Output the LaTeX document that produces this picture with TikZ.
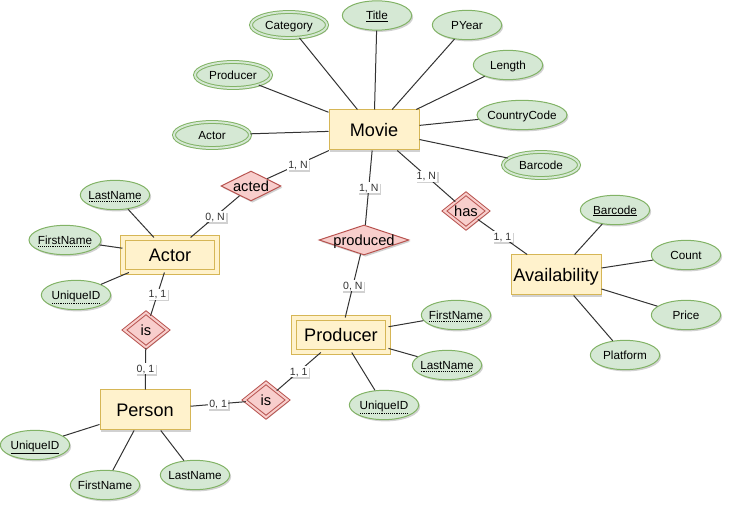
\documentclass[tikz,border=0pt]{standalone}
\usepackage{fontspec}
\setmainfont{Liberation Sans}
\usetikzlibrary{shapes.geometric,shadows}
\definecolor{entfill}{HTML}{FFF2CC}
\definecolor{entdraw}{HTML}{D6B656}
\definecolor{attfill}{HTML}{D5E8D4}
\definecolor{attdraw}{HTML}{82B366}
\definecolor{relfill}{HTML}{F8CECC}
\definecolor{reldraw}{HTML}{B85450}
\definecolor{edgecol}{HTML}{333333}
\newcommand\dotul[1]{\leavevmode\setbox0=\hbox{#1}\vtop{\offinterlineskip\copy0\kern1pt\hbox to\wd0{\leaders\hbox to 1.4pt{\hss\vrule width 0.65pt height 0.65pt\hss}\hfill}}}
\newcommand\keyul[1]{\leavevmode\setbox0=\hbox{#1}\vtop{\offinterlineskip\copy0\kern0.9pt\hrule height 0.7pt width\wd0}}
\tikzset{
  shad/.style={drop shadow={shadow xshift=1.1pt,shadow yshift=-1.3pt,opacity=0.18,fill=black}},
  entity/.style={rectangle, draw=entdraw, fill=entfill, line width=0.75pt, minimum width=67.5pt, minimum height=30pt, inner sep=0pt, font=\fontsize{13.6}{15}\selectfont, text height=9.8pt, text depth=0.2pt, shad},
  weakentity/.style={entity, double=entfill, double distance=3pt, minimum width=70.5pt, minimum height=25.5pt},
  attr/.style={ellipse, draw=attdraw, fill=attfill, line width=0.75pt, minimum width=52pt, minimum height=22pt, inner xsep=-3pt, inner ysep=0pt, font=\fontsize{8.8}{10}\selectfont, text height=6.4pt, text depth=0.2pt, shad},
  multiattr/.style={attr, double=attfill, double distance=1.4pt, minimum width=57pt, minimum height=19.5pt},
  rel/.style={diamond, draw=reldraw, fill=relfill, line width=0.75pt, inner sep=0pt, shad},
  weakrel/.style={rel, double=relfill, double distance=1.5pt, minimum width=32.7pt, minimum height=26.2pt},
  reltext/.style={font=\fontsize{11}{13}\selectfont, inner sep=0pt, text height=8pt, text depth=0.2pt},
  conn/.style={draw=edgecol, line width=0.75pt},
  elabel/.style={fill=white, inner sep=1pt, font=\fontsize{7.9}{9}\selectfont, text=edgecol, text height=5.8pt, text depth=0.4pt, shad}
}
\begin{document}
\begin{tikzpicture}[x=0.75pt,y=-0.75pt]
\useasboundingbox (0,0) rectangle (733,513);
% entities
\node[entity] (movie) at (374,130) {Movie};
\node[weakentity] (actor) at (170,255) {Actor};
\node[entity] (person) at (145,410) {Person};
\node[weakentity] (producer) at (341,335) {Producer};
\node[entity] (avail) at (556,275) {Availability};
% movie attributes
\node[attr] (title) at (377,15.5) {\keyul{Title}};
\node[multiattr] (category) at (289,25) {Category};
\node[attr] (pyear) at (467,25) {PYear};
\node[attr] (length) at (508,65) {Length};
\node[multiattr] (mproducer) at (233,75) {Producer};
\node[attr, minimum width=67.5pt] (ccode) at (522,115) {CountryCode};
\node[multiattr] (mactor) at (212,135) {Actor};
\node[multiattr] (mbarcode) at (541,165) {Barcode};
% actor attributes
\node[attr] (alast) at (115,195) {\dotul{LastName}};
\node[attr, minimum width=54pt] (afirst) at (65,240) {\dotul{FirstName}};
\node[attr] (auid) at (76,295) {\dotul{UniqueID}};
% person attributes
\node[attr] (puid) at (35,445) {\keyul{UniqueID}};
\node[attr] (pfirst) at (105,485) {FirstName};
\node[attr] (plast) at (195,475) {LastName};
% producer attributes
\node[attr] (prfirst) at (456,315) {\dotul{FirstName}};
\node[attr] (prlast) at (447,365) {\dotul{LastName}};
\node[attr] (pruid) at (384,405) {\dotul{UniqueID}};
% availability attributes
\node[attr] (abarcode) at (615,210) {\keyul{Barcode}};
\node[attr] (count) at (686,255) {Count};
\node[attr] (price) at (686,315) {Price};
\node[attr] (platform) at (625,355) {Platform};
% relationships
\node[rel, minimum width=45pt, minimum height=22.5pt] (acted) at (251,186) {};
\node[reltext] (actedt) at (acted) {acted};
\node[rel, minimum width=67.5pt, minimum height=22.5pt] (produced) at (364,240) {};
\node[reltext] (producedt) at (produced) {produced};
\node[weakrel] (has) at (466,211) {};
\node[reltext] (hast) at (has) {has};
\node[weakrel] (isa) at (146,330) {};
\node[reltext] (isat) at (isa) {is};
\node[weakrel] (isb) at (266,400) {};
\node[reltext] (isbt) at (isb) {is};
% attribute connectors
\foreach \a in {title,category,pyear,length,mproducer,ccode,mactor,mbarcode}
  \draw[conn] (movie) -- (\a);
\foreach \a in {alast,afirst,auid}
  \draw[conn] (actor) -- (\a);
\foreach \a in {puid,pfirst,plast}
  \draw[conn] (person) -- (\a);
\foreach \a in {prfirst,prlast,pruid}
  \draw[conn] (producer) -- (\a);
\foreach \a in {abarcode,count,price,platform}
  \draw[conn] (avail) -- (\a);
% relationship connectors
\draw[conn] (movie) -- node[elabel] (l1) {1, N} (acted);
\draw[conn] (acted) -- node[elabel] (l2) {0, N} (actor);
\draw[conn] (actor) -- node[elabel] (l3) {1, 1} (isa);
\draw[conn] (isa) -- node[elabel] (l4) {0, 1} (person);
\draw[conn] (person) -- node[elabel] (l5) {0, 1} (isb);
\draw[conn] (isb) -- node[elabel] (l6) {1, 1} (producer);
\draw[conn] (movie) -- node[elabel] (l7) {1, N} (produced);
\draw[conn] (produced) -- node[elabel] (l8) {0, N} (producer);
\draw[conn] (movie) -- node[elabel] (l9) {1, N} (has);
\draw[conn] (has) -- node[elabel] (l10) {1, 1} (avail);
\end{tikzpicture}
\end{document}
